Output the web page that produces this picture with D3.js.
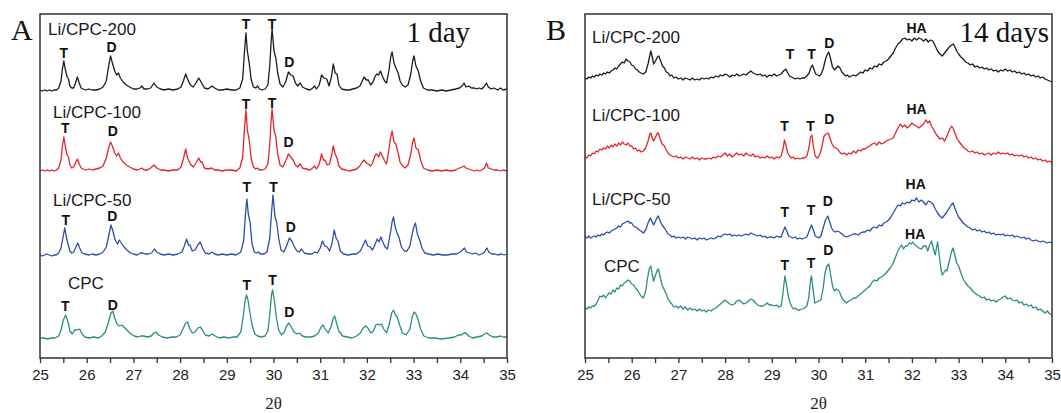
<html>
<head>
  <title>XRD Li/CPC</title>
  <script src="https://d3js.org/d3.v7.min.js"></script>
  <style>
    body { margin: 0; background: #fff; }
    svg text { font-family: Arial, "Liberation Sans", sans-serif; }
  </style>
</head>
<body>
<div id="chart"></div>
<script>
// ---- data (2theta, intensity above each trace's own baseline) ----
var samples = ["Li/CPC-200", "Li/CPC-100", "Li/CPC-50", "CPC"];
var colors = ["#1c1c1c", "#e2252b", "#2c4ea5", "#2b8c84"];
var tickValues = [25, 26, 27, 28, 29, 30, 31, 32, 33, 34, 35];

// panel A, 1 day
var a200 = [[25.00,1],[25.05,0],[25.10,1],[25.15,0],[25.20,1],[25.25,0],[25.30,1],[25.35,1],[25.40,3],[25.45,10],[25.48,22],[25.51,30],[25.54,22],[25.58,14],[25.61,12],[25.64,5],[25.68,3],[25.72,3],[25.76,8],[25.80,14],[25.84,8],[25.88,3],[25.92,2],[25.98,1],[26.05,2],[26.12,1],[26.2,1],[26.28,2],[26.35,4],[26.42,10],[26.47,25],[26.51,35],[26.55,28],[26.60,20],[26.64,16],[26.68,18],[26.72,13],[26.78,9],[26.85,6],[26.92,4],[27.0,2],[27.08,2],[27.14,3],[27.18,5],[27.23,2],[27.3,2],[27.37,3],[27.44,8],[27.5,4],[27.58,2],[27.66,1],[27.75,2],[27.85,1],[27.95,2],[28.02,4],[28.07,10],[28.12,17],[28.16,12],[28.22,6],[28.28,4],[28.34,8],[28.40,13],[28.45,9],[28.52,3],[28.6,2],[28.68,5],[28.74,3],[28.82,1],[28.9,1],[29.0,2],[29.1,1],[29.2,1],[29.28,3],[29.34,12],[29.38,40],[29.41,58],[29.44,40],[29.48,28],[29.52,12],[29.57,4],[29.62,3],[29.66,5],[29.7,2],[29.76,1],[29.82,2],[29.88,6],[29.92,25],[29.95,50],[29.97,62],[30.01,40],[30.05,33],[30.09,18],[30.14,7],[30.2,4],[30.26,9],[30.32,19],[30.37,16],[30.42,15],[30.47,8],[30.52,5],[30.57,8],[30.62,4],[30.7,2],[30.78,1],[30.84,3],[30.88,5],[30.92,2],[30.98,6],[31.03,16],[31.08,13],[31.14,12],[31.19,5],[31.24,14],[31.28,27],[31.32,18],[31.36,17],[31.4,6],[31.46,2],[31.55,1],[31.62,1],[31.7,2],[31.78,3],[31.85,5],[31.9,10],[31.94,14],[31.99,11],[32.03,11],[32.08,6],[32.13,9],[32.18,15],[32.21,17],[32.25,16],[32.29,20],[32.33,15],[32.38,10],[32.42,8],[32.47,20],[32.51,34],[32.54,39],[32.58,28],[32.62,23],[32.67,18],[32.71,10],[32.76,6],[32.82,4],[32.88,6],[32.94,17],[32.98,30],[33.01,35],[33.05,25],[33.1,20],[33.15,10],[33.21,3],[33.3,1],[33.4,1],[33.5,0],[33.6,1],[33.7,0],[33.8,1],[33.9,2],[33.98,3],[34.04,5],[34.08,8],[34.12,4],[34.18,5],[34.24,3],[34.3,3],[34.35,2],[34.4,3],[34.46,2],[34.52,5],[34.56,8],[34.6,4],[34.66,2],[34.72,3],[34.8,1],[34.86,3],[34.92,1],[35.0,2]];
var a100 = [[25.00,1],[25.05,2],[25.10,1],[25.15,2],[25.20,1],[25.25,2],[25.30,1],[25.35,2],[25.40,4],[25.45,12],[25.48,26],[25.51,35],[25.54,26],[25.58,17],[25.61,15],[25.64,7],[25.68,4],[25.72,5],[25.76,9],[25.80,13],[25.84,8],[25.88,4],[25.92,3],[25.98,2],[26.05,3],[26.12,2],[26.2,3],[26.28,4],[26.35,6],[26.42,14],[26.47,24],[26.51,30],[26.55,26],[26.60,19],[26.64,16],[26.68,19],[26.72,14],[26.78,10],[26.85,7],[26.92,5],[27.0,3],[27.08,2],[27.14,3],[27.18,4],[27.23,2],[27.3,2],[27.37,4],[27.44,7],[27.5,4],[27.58,2],[27.66,2],[27.75,1],[27.85,2],[27.95,2],[28.02,5],[28.07,13],[28.12,23],[28.16,14],[28.22,8],[28.28,5],[28.34,9],[28.40,14],[28.44,10],[28.47,10],[28.52,4],[28.6,3],[28.68,4],[28.74,2],[28.82,2],[28.9,1],[29.0,2],[29.1,2],[29.2,1],[29.28,4],[29.34,15],[29.38,45],[29.41,62],[29.44,42],[29.48,32],[29.52,14],[29.57,5],[29.62,3],[29.66,4],[29.7,2],[29.76,2],[29.82,3],[29.88,8],[29.92,28],[29.95,52],[29.97,63],[30.01,42],[30.05,35],[30.09,18],[30.14,7],[30.2,5],[30.26,11],[30.32,18],[30.37,15],[30.42,12],[30.47,7],[30.52,5],[30.57,8],[30.62,4],[30.7,3],[30.78,2],[30.84,4],[30.88,6],[30.92,3],[30.98,8],[31.03,18],[31.07,12],[31.1,12],[31.15,7],[31.2,8],[31.24,16],[31.28,26],[31.32,18],[31.36,14],[31.4,6],[31.46,3],[31.55,2],[31.62,1],[31.7,2],[31.78,3],[31.85,6],[31.9,10],[31.94,12],[31.99,9],[32.03,8],[32.08,6],[32.13,10],[32.18,17],[32.21,18],[32.25,15],[32.29,20],[32.33,16],[32.38,11],[32.42,8],[32.47,22],[32.51,35],[32.54,41],[32.58,30],[32.62,28],[32.67,19],[32.71,10],[32.76,6],[32.82,4],[32.88,7],[32.94,18],[32.98,30],[33.01,34],[33.05,24],[33.1,22],[33.15,12],[33.21,4],[33.3,2],[33.4,1],[33.5,2],[33.6,1],[33.7,2],[33.8,1],[33.9,2],[33.98,4],[34.04,5],[34.08,6],[34.12,4],[34.18,3],[34.24,2],[34.3,1],[34.35,2],[34.4,1],[34.46,2],[34.52,4],[34.56,9],[34.6,4],[34.66,3],[34.72,2],[34.8,2],[34.86,1],[34.92,2],[35.0,1]];
var a50 = [[25.00,1],[25.05,0],[25.10,1],[25.15,2],[25.20,1],[25.25,0],[25.30,1],[25.35,1],[25.40,3],[25.45,8],[25.49,18],[25.53,28],[25.56,20],[25.6,12],[25.64,5],[25.68,3],[25.72,4],[25.77,9],[25.81,13],[25.85,8],[25.9,3],[25.96,2],[26.05,1],[26.12,2],[26.2,1],[26.28,2],[26.35,4],[26.42,9],[26.47,20],[26.52,31],[26.56,25],[26.61,16],[26.66,12],[26.7,16],[26.74,13],[26.8,9],[26.86,6],[26.94,3],[27.0,2],[27.08,1],[27.15,3],[27.2,3],[27.25,2],[27.32,2],[27.39,3],[27.45,7],[27.5,4],[27.58,2],[27.66,1],[27.75,2],[27.85,1],[27.95,2],[28.04,4],[28.09,10],[28.14,17],[28.18,11],[28.21,11],[28.26,5],[28.32,6],[28.38,11],[28.43,14],[28.48,8],[28.54,3],[28.62,2],[28.68,4],[28.74,2],[28.82,1],[28.9,2],[29.0,1],[29.1,2],[29.2,1],[29.3,4],[29.36,15],[29.4,42],[29.43,57],[29.46,42],[29.5,33],[29.54,12],[29.59,4],[29.64,3],[29.68,4],[29.72,2],[29.8,2],[29.86,4],[29.92,18],[29.96,45],[29.99,61],[30.03,40],[30.07,33],[30.11,18],[30.16,6],[30.22,4],[30.28,10],[30.34,18],[30.39,15],[30.44,10],[30.5,5],[30.55,4],[30.6,7],[30.66,3],[30.74,2],[30.82,2],[30.88,4],[30.94,3],[31.0,8],[31.05,15],[31.1,10],[31.15,9],[31.2,5],[31.25,12],[31.3,26],[31.34,18],[31.38,15],[31.43,5],[31.5,2],[31.6,1],[31.7,2],[31.78,2],[31.86,5],[31.92,11],[31.97,16],[32.02,10],[32.07,9],[32.12,6],[32.17,11],[32.22,17],[32.26,14],[32.3,19],[32.34,14],[32.39,9],[32.44,7],[32.5,22],[32.54,34],[32.57,39],[32.61,28],[32.64,24],[32.69,18],[32.74,9],[32.8,5],[32.86,5],[32.92,10],[32.97,22],[33.01,30],[33.04,33],[33.08,22],[33.13,16],[33.18,8],[33.24,3],[33.32,2],[33.42,1],[33.52,2],[33.62,1],[33.72,1],[33.82,2],[33.92,2],[34.0,4],[34.05,6],[34.09,8],[34.13,4],[34.2,3],[34.26,2],[34.33,3],[34.4,1],[34.46,2],[34.52,4],[34.57,8],[34.61,4],[34.68,2],[34.74,2],[34.8,1],[34.88,2],[34.94,1],[35.0,2]];
var aCPC = [[25.00,1],[25.08,1],[25.16,0],[25.24,1],[25.32,1],[25.4,3],[25.45,9],[25.5,19],[25.55,24],[25.6,17],[25.64,8],[25.69,5],[25.74,9],[25.79,9],[25.85,10],[25.9,5],[25.96,2],[26.05,1],[26.15,2],[26.25,1],[26.32,3],[26.4,7],[26.46,16],[26.52,26],[26.56,28],[26.6,21],[26.65,15],[26.7,13],[26.75,14],[26.82,11],[26.88,8],[26.95,5],[27.02,3],[27.1,2],[27.16,3],[27.22,3],[27.3,2],[27.38,3],[27.44,6],[27.48,7],[27.54,4],[27.62,2],[27.72,1],[27.82,2],[27.92,2],[28.0,4],[28.06,10],[28.12,16],[28.16,17],[28.2,11],[28.26,6],[28.32,7],[28.38,11],[28.43,12],[28.48,9],[28.54,4],[28.62,3],[28.69,5],[28.75,3],[28.84,1],[28.94,2],[29.04,1],[29.14,2],[29.22,2],[29.3,7],[29.35,22],[29.39,38],[29.42,44],[29.45,40],[29.49,28],[29.54,14],[29.6,5],[29.66,3],[29.74,2],[29.82,3],[29.88,8],[29.92,25],[29.96,45],[29.98,49],[30.02,38],[30.06,22],[30.11,9],[30.17,4],[30.23,7],[30.28,13],[30.33,16],[30.38,12],[30.44,7],[30.5,5],[30.55,6],[30.62,3],[30.7,2],[30.8,2],[30.88,3],[30.96,6],[31.02,12],[31.06,14],[31.11,10],[31.17,6],[31.23,12],[31.28,21],[31.31,23],[31.35,16],[31.4,8],[31.48,3],[31.58,2],[31.68,1],[31.78,3],[31.86,6],[31.92,11],[31.97,13],[32.02,11],[32.08,6],[32.14,8],[32.19,14],[32.23,15],[32.27,14],[32.31,15],[32.36,10],[32.42,6],[32.48,15],[32.53,26],[32.57,29],[32.61,24],[32.65,22],[32.7,14],[32.76,6],[32.84,4],[32.92,10],[32.97,22],[33.01,27],[33.05,25],[33.1,19],[33.15,10],[33.22,3],[33.32,1],[33.45,1],[33.6,0],[33.75,1],[33.88,2],[33.96,4],[34.02,4],[34.08,6],[34.12,6],[34.18,3],[34.26,1],[34.36,2],[34.46,3],[34.52,5],[34.57,6],[34.62,4],[34.7,2],[34.78,2],[34.86,3],[34.93,2],[35.0,2]];

// panel B, 14 days
var b200 = [[25.00,3],[25.04,2],[25.08,4],[25.12,3],[25.16,5],[25.2,4],[25.24,6],[25.28,5],[25.32,7],[25.36,6],[25.4,8],[25.44,7],[25.48,9],[25.52,8],[25.56,10],[25.6,11],[25.64,13],[25.68,12],[25.72,15],[25.76,17],[25.8,19],[25.84,18],[25.88,22],[25.92,20],[25.96,19],[26.0,16],[26.04,15],[26.08,12],[26.12,11],[26.16,9],[26.2,8],[26.25,7],[26.3,9],[26.35,17],[26.39,26],[26.41,30],[26.44,24],[26.47,17],[26.51,20],[26.55,24],[26.58,25],[26.62,20],[26.66,15],[26.7,13],[26.74,9],[26.78,8],[26.82,5],[26.86,6],[26.9,3],[26.95,4],[27.0,2],[27.05,3],[27.1,1],[27.15,3],[27.2,2],[27.25,1],[27.3,3],[27.35,1],[27.4,2],[27.45,1],[27.5,3],[27.55,2],[27.6,3],[27.65,2],[27.7,4],[27.75,3],[27.8,5],[27.85,4],[27.9,6],[27.95,5],[28.0,7],[28.05,6],[28.1,4],[28.15,6],[28.2,5],[28.25,7],[28.3,5],[28.35,6],[28.4,7],[28.45,6],[28.5,8],[28.55,10],[28.6,8],[28.65,7],[28.7,6],[28.75,7],[28.8,5],[28.85,6],[28.9,4],[28.95,6],[29.0,5],[29.05,7],[29.1,5],[29.15,6],[29.2,7],[29.25,10],[29.3,12],[29.34,8],[29.38,5],[29.42,4],[29.46,3],[29.5,2],[29.55,3],[29.6,2],[29.65,3],[29.7,3],[29.75,5],[29.8,8],[29.84,14],[29.87,16],[29.9,12],[29.94,7],[29.98,6],[30.02,5],[30.06,7],[30.1,12],[30.14,20],[30.18,26],[30.22,29],[30.26,22],[30.3,14],[30.34,11],[30.38,13],[30.42,15],[30.46,13],[30.5,9],[30.54,7],[30.58,5],[30.62,6],[30.66,4],[30.7,5],[30.75,6],[30.8,5],[30.85,7],[30.9,9],[30.95,8],[31.0,11],[31.05,10],[31.1,13],[31.15,12],[31.2,15],[31.25,14],[31.3,17],[31.35,16],[31.4,19],[31.45,20],[31.5,22],[31.55,25],[31.6,28],[31.65,33],[31.7,37],[31.75,39],[31.8,42],[31.85,43],[31.9,41],[31.95,42],[32.0,40],[32.05,43],[32.1,41],[32.15,43],[32.2,42],[32.25,40],[32.3,42],[32.35,39],[32.4,41],[32.45,40],[32.5,35],[32.55,30],[32.6,27],[32.65,25],[32.7,28],[32.75,31],[32.8,34],[32.85,36],[32.89,37],[32.93,33],[32.97,29],[33.0,27],[33.05,24],[33.1,22],[33.15,19],[33.2,18],[33.25,16],[33.3,17],[33.35,14],[33.4,15],[33.45,13],[33.5,14],[33.55,12],[33.6,13],[33.65,11],[33.7,12],[33.75,10],[33.8,11],[33.85,9],[33.9,11],[33.95,10],[34.0,12],[34.05,10],[34.1,11],[34.15,9],[34.2,10],[34.25,8],[34.3,9],[34.35,7],[34.4,8],[34.45,6],[34.5,7],[34.55,5],[34.6,6],[34.65,4],[34.7,5],[34.75,3],[34.8,4],[34.85,2],[34.9,1],[34.95,0],[35.0,-1]];
var b100 = [[25.0,4],[25.04,3],[25.08,6],[25.12,5],[25.16,8],[25.2,7],[25.24,10],[25.28,9],[25.32,12],[25.36,11],[25.4,13],[25.44,12],[25.48,15],[25.52,13],[25.56,16],[25.6,14],[25.64,17],[25.68,15],[25.72,18],[25.76,16],[25.8,19],[25.84,17],[25.88,16],[25.92,18],[25.96,15],[26.0,15],[26.04,12],[26.08,13],[26.12,10],[26.16,11],[26.2,9],[26.25,10],[26.3,13],[26.35,20],[26.39,27],[26.41,28],[26.44,23],[26.47,20],[26.51,24],[26.55,28],[26.57,28],[26.61,22],[26.65,17],[26.7,15],[26.74,11],[26.78,8],[26.82,6],[26.86,5],[26.9,4],[26.95,5],[27.0,3],[27.05,4],[27.1,2],[27.15,4],[27.2,3],[27.25,2],[27.3,4],[27.35,2],[27.4,3],[27.45,1],[27.5,3],[27.55,2],[27.6,2],[27.65,3],[27.7,2],[27.75,4],[27.8,3],[27.85,5],[27.9,4],[27.95,6],[28.0,8],[28.05,5],[28.1,7],[28.15,4],[28.2,6],[28.25,8],[28.3,6],[28.35,7],[28.4,5],[28.45,8],[28.5,6],[28.55,5],[28.6,7],[28.65,4],[28.7,5],[28.75,3],[28.8,4],[28.85,3],[28.9,5],[28.95,3],[29.0,4],[29.05,2],[29.1,4],[29.15,3],[29.2,5],[29.24,12],[29.27,21],[29.3,16],[29.34,8],[29.38,5],[29.42,3],[29.46,4],[29.5,2],[29.55,3],[29.6,2],[29.65,3],[29.7,3],[29.75,5],[29.79,12],[29.83,24],[29.86,26],[29.89,15],[29.93,5],[29.97,3],[30.0,4],[30.04,8],[30.08,16],[30.12,25],[30.16,27],[30.21,28],[30.25,22],[30.29,17],[30.33,14],[30.37,13],[30.41,12],[30.45,9],[30.5,7],[30.55,8],[30.6,6],[30.65,8],[30.7,7],[30.75,10],[30.8,8],[30.85,11],[30.9,10],[30.95,12],[31.0,12],[31.05,14],[31.1,15],[31.15,17],[31.2,18],[31.25,16],[31.3,19],[31.35,17],[31.4,18],[31.45,20],[31.5,21],[31.55,22],[31.6,23],[31.65,28],[31.7,33],[31.75,37],[31.8,34],[31.85,36],[31.9,33],[31.95,35],[32.0,38],[32.05,36],[32.1,35],[32.15,33],[32.2,35],[32.25,37],[32.3,41],[32.34,38],[32.38,40],[32.42,35],[32.46,32],[32.5,28],[32.55,25],[32.6,22],[32.65,23],[32.7,20],[32.75,25],[32.8,31],[32.85,35],[32.89,32],[32.93,27],[32.97,22],[33.0,20],[33.05,17],[33.1,14],[33.15,12],[33.2,10],[33.25,9],[33.3,10],[33.35,8],[33.4,9],[33.45,7],[33.5,8],[33.55,6],[33.6,7],[33.65,8],[33.7,6],[33.75,8],[33.8,7],[33.85,9],[33.9,7],[33.95,8],[34.0,7],[34.05,8],[34.1,6],[34.15,7],[34.2,5],[34.25,6],[34.3,5],[34.35,6],[34.4,4],[34.45,5],[34.5,3],[34.55,4],[34.6,2],[34.65,3],[34.7,1],[34.75,2],[34.8,0],[34.85,1],[34.9,-1],[34.95,0],[35.0,-2]];
var b50 = [[25.0,3],[25.04,2],[25.08,4],[25.12,2],[25.16,3],[25.2,4],[25.24,3],[25.28,5],[25.32,4],[25.36,6],[25.4,5],[25.44,7],[25.48,8],[25.52,7],[25.56,9],[25.6,10],[25.64,11],[25.68,12],[25.72,14],[25.76,13],[25.8,16],[25.84,17],[25.88,18],[25.92,19],[25.96,17],[26.0,17],[26.04,14],[26.08,13],[26.12,12],[26.16,10],[26.2,9],[26.25,7],[26.3,10],[26.35,17],[26.4,22],[26.44,18],[26.47,15],[26.51,19],[26.55,23],[26.57,24],[26.61,19],[26.65,15],[26.7,12],[26.74,9],[26.78,6],[26.82,5],[26.86,3],[26.9,4],[26.95,2],[27.0,3],[27.05,2],[27.1,3],[27.15,1],[27.2,3],[27.25,2],[27.3,1],[27.35,2],[27.4,0],[27.45,2],[27.5,1],[27.55,2],[27.6,0],[27.65,1],[27.7,2],[27.75,1],[27.8,2],[27.85,4],[27.9,3],[27.95,5],[28.0,6],[28.05,5],[28.1,6],[28.15,4],[28.2,5],[28.25,4],[28.3,5],[28.35,4],[28.4,5],[28.45,6],[28.5,5],[28.55,7],[28.6,6],[28.65,5],[28.7,4],[28.75,5],[28.8,3],[28.85,4],[28.9,2],[28.95,3],[29.0,3],[29.05,2],[29.1,4],[29.15,3],[29.2,3],[29.24,8],[29.28,13],[29.32,9],[29.36,4],[29.4,3],[29.45,2],[29.5,3],[29.55,1],[29.6,2],[29.65,1],[29.7,2],[29.75,3],[29.8,9],[29.85,15],[29.89,10],[29.93,4],[29.97,3],[30.01,2],[30.05,4],[30.1,12],[30.15,20],[30.2,24],[30.24,18],[30.28,12],[30.32,9],[30.36,8],[30.4,9],[30.45,8],[30.5,6],[30.55,4],[30.6,3],[30.65,4],[30.7,5],[30.75,6],[30.8,6],[30.85,5],[30.9,7],[30.95,8],[31.0,8],[31.05,10],[31.1,9],[31.15,12],[31.2,13],[31.25,12],[31.3,15],[31.35,14],[31.4,17],[31.45,18],[31.5,20],[31.55,23],[31.6,27],[31.65,31],[31.7,35],[31.75,34],[31.8,37],[31.85,36],[31.9,38],[31.95,37],[32.0,40],[32.05,39],[32.1,42],[32.15,38],[32.2,40],[32.25,38],[32.3,35],[32.35,39],[32.4,38],[32.45,36],[32.5,31],[32.55,27],[32.6,24],[32.65,22],[32.7,25],[32.75,28],[32.8,32],[32.84,35],[32.88,37],[32.92,32],[32.96,27],[33.0,23],[33.05,20],[33.1,17],[33.15,15],[33.2,13],[33.25,12],[33.3,10],[33.35,11],[33.4,9],[33.45,10],[33.5,8],[33.55,9],[33.6,7],[33.65,8],[33.7,6],[33.75,7],[33.8,5],[33.85,6],[33.9,5],[33.95,6],[34.0,4],[34.05,5],[34.1,4],[34.15,5],[34.2,3],[34.25,4],[34.3,3],[34.35,2],[34.4,3],[34.45,1],[34.5,2],[34.55,0],[34.6,-1],[34.65,0],[34.7,-1],[34.75,-2],[34.8,-1],[34.85,-2],[34.9,-3],[34.95,-2],[35.0,-3]];
var bCPC = [[25.0,5],[25.04,4],[25.08,6],[25.12,5],[25.16,7],[25.2,7],[25.24,9],[25.28,13],[25.32,17],[25.36,16],[25.4,18],[25.44,15],[25.48,18],[25.52,20],[25.56,19],[25.6,23],[25.64,21],[25.68,25],[25.72,24],[25.76,28],[25.8,27],[25.84,30],[25.88,31],[25.92,33],[25.96,32],[26.0,29],[26.04,28],[26.08,25],[26.12,23],[26.16,20],[26.2,17],[26.25,15],[26.3,22],[26.34,35],[26.38,45],[26.41,47],[26.44,38],[26.47,32],[26.51,38],[26.55,43],[26.57,44],[26.61,36],[26.65,28],[26.7,23],[26.74,19],[26.78,14],[26.82,11],[26.86,9],[26.9,6],[26.95,7],[27.0,5],[27.05,7],[27.1,4],[27.15,6],[27.2,3],[27.25,5],[27.3,3],[27.35,4],[27.4,2],[27.45,4],[27.5,2],[27.55,3],[27.6,1],[27.65,3],[27.7,2],[27.75,4],[27.8,5],[27.85,7],[27.9,9],[27.95,11],[28.0,13],[28.05,11],[28.1,9],[28.15,8],[28.2,9],[28.25,12],[28.3,13],[28.35,11],[28.4,9],[28.45,10],[28.5,12],[28.55,14],[28.6,13],[28.65,10],[28.7,8],[28.75,7],[28.8,7],[28.85,8],[28.9,10],[28.95,8],[29.0,8],[29.05,7],[29.1,8],[29.15,6],[29.2,7],[29.24,20],[29.28,37],[29.31,30],[29.35,18],[29.38,12],[29.42,7],[29.46,4],[29.5,5],[29.55,3],[29.6,3],[29.65,4],[29.7,5],[29.75,7],[29.79,15],[29.83,33],[29.85,37],[29.88,25],[29.92,10],[29.96,11],[30.0,12],[30.05,13],[30.1,25],[30.14,40],[30.18,47],[30.22,49],[30.26,38],[30.3,27],[30.34,22],[30.38,24],[30.42,23],[30.46,20],[30.5,15],[30.55,12],[30.6,10],[30.65,12],[30.7,13],[30.75,15],[30.8,15],[30.85,17],[30.9,19],[30.95,21],[31.0,23],[31.05,25],[31.1,27],[31.15,31],[31.2,33],[31.25,32],[31.3,35],[31.35,36],[31.4,38],[31.45,40],[31.5,43],[31.55,46],[31.6,50],[31.65,56],[31.7,62],[31.75,66],[31.78,68],[31.82,64],[31.86,67],[31.9,67],[31.94,70],[31.98,69],[32.02,71],[32.06,68],[32.1,67],[32.15,65],[32.2,64],[32.25,67],[32.3,67],[32.34,62],[32.38,68],[32.42,72],[32.46,64],[32.5,58],[32.53,66],[32.55,71],[32.58,60],[32.62,45],[32.65,38],[32.68,40],[32.72,43],[32.75,42],[32.8,52],[32.84,60],[32.88,65],[32.92,58],[32.96,50],[33.0,47],[33.05,40],[33.1,34],[33.15,30],[33.2,27],[33.25,25],[33.3,22],[33.35,20],[33.4,18],[33.45,17],[33.5,15],[33.55,16],[33.6,13],[33.65,14],[33.7,12],[33.75,13],[33.8,11],[33.85,13],[33.9,14],[33.95,16],[34.0,17],[34.05,14],[34.1,15],[34.15,13],[34.2,12],[34.25,13],[34.3,10],[34.35,11],[34.4,8],[34.45,9],[34.5,7],[34.55,8],[34.6,5],[34.65,6],[34.7,3],[34.75,4],[34.8,2],[34.85,0],[34.9,2],[34.95,-1],[35.0,-2]];

// phase marks: [label, 2theta, height above the trace baseline]
var marksA = [
  [["T",25.51,38],["D",26.53,44],["T",29.41,67],["T",29.97,67],["D",30.34,29]],
  [["T",25.54,44],["D",26.56,41],["T",29.41,68],["T",29.97,69],["D",30.32,30]],
  [["T",25.55,36],["D",26.55,40],["T",29.43,69],["T",30.0,69],["D",30.37,29]],
  [["T",25.54,33],["D",26.56,34],["T",29.43,54],["T",29.98,59],["D",30.34,27]]
];
var marksB = [
  [["T",29.39,27],["T",29.85,27],["D",30.23,38],["HA",32.1,53]],
  [["T",29.27,35],["T",29.83,35],["D",30.23,42],["HA",32.1,52]],
  [["T",29.28,28],["T",29.84,30],["D",30.2,39],["HA",32.08,56]],
  [["T",29.28,48],["T",29.84,50],["D",30.21,63],["HA",32.07,79]]
];

// ---- layout ----
var W = 1061, H = 413;
var plotTop = 14, plotBottom = 358;

var panels = [
  { left: 40, right: 507, letter: "A", letterX: 11, tag: "1 day", tagX: 470,
    series: [a200, a100, a50, aCPC], marks: marksA,
    offsets: [267, 186, 102, 19],
    nameXY: [[48, 29], [53, 112], [53, 200], [68, 283]] },
  { left: 585, right: 1052, letter: "B", letterX: 546, tag: "14 days", tagX: 1049,
    series: [b200, b100, b50, bCPC], marks: marksB,
    offsets: [277, 197, 118, 45],
    nameXY: [[592, 37], [592, 115], [592, 199], [604, 266]] }
];

var svg = d3.select("#chart")
  .append("svg")
  .attr("width", W)
  .attr("height", H)
  .style("background", "#fff");

panels.forEach(function(p) {
  var x = d3.scaleLinear().domain([25, 35]).range([p.left, p.right]);
  var y = d3.scaleLinear().domain([0, plotBottom - plotTop]).range([plotBottom, plotTop]);

  var g = svg.append("g");

  // traces
  p.series.forEach(function(s, i) {
    var line = d3.line()
      .x(function(d) { return x(d[0]); })
      .y(function(d) { return y(d[1] + p.offsets[i]); });
    g.append("path")
      .datum(s)
      .attr("d", line)
      .attr("fill", "none")
      .attr("stroke", colors[i])
      .attr("stroke-width", 1.3)
      .attr("stroke-linejoin", "round");
  });

  // phase marks
  p.marks.forEach(function(list, i) {
    g.selectAll(null)
      .data(list)
      .enter()
      .append("text")
      .attr("x", function(d) { return x(d[1]); })
      .attr("y", function(d) { return y(d[2] + p.offsets[i]); })
      .attr("text-anchor", "middle")
      .attr("dominant-baseline", "central")
      .attr("font-size", "14px")
      .attr("font-weight", "bold")
      .attr("fill", "#111")
      .text(function(d) { return d[0]; });
  });

  // sample names
  g.selectAll(null)
    .data(samples)
    .enter()
    .append("text")
    .attr("x", function(d, i) { return p.nameXY[i][0]; })
    .attr("y", function(d, i) { return p.nameXY[i][1]; })
    .attr("dominant-baseline", "central")
    .attr("font-size", "17px")
    .attr("fill", "#1a1a1a")
    .text(function(d) { return d; });

  // x axis with half-unit minor ticks
  var axis = d3.axisBottom(x)
    .tickValues(d3.range(25, 35.01, 0.5))
    .tickSize(5)
    .tickPadding(6)
    .tickFormat(function(d) { return tickValues.indexOf(d) >= 0 ? d : ""; });

  var ax = g.append("g")
    .attr("transform", "translate(0," + plotBottom + ")")
    .call(axis);
  ax.select(".domain").remove();
  ax.selectAll(".tick line").attr("stroke", "#333").attr("stroke-width", 1.3);
  ax.selectAll(".tick text")
    .attr("font-size", "15px")
    .attr("fill", "#222")
    .style("font-family", "Arial, 'Liberation Sans', sans-serif");

  // frame
  g.append("rect")
    .attr("x", p.left)
    .attr("y", plotTop)
    .attr("width", p.right - p.left)
    .attr("height", plotBottom - plotTop)
    .attr("fill", "none")
    .attr("stroke", "#333")
    .attr("stroke-width", 1.5);

  // axis title
  g.append("text")
    .attr("x", (p.left + p.right) / 2)
    .attr("y", 403)
    .attr("text-anchor", "middle")
    .attr("dominant-baseline", "central")
    .attr("font-size", "17px")
    .attr("fill", "#222")
    .style("font-family", "'Liberation Serif', 'DejaVu Serif', serif")
    .text("2θ");

  // panel letter and time tag
  g.append("text")
    .attr("x", p.letterX)
    .attr("y", 40)
    .attr("font-size", "30px")
    .attr("fill", "#111")
    .style("font-family", "'Liberation Serif', 'Times New Roman', serif")
    .text(p.letter);

  g.append("text")
    .attr("x", p.tagX)
    .attr("y", 42)
    .attr("text-anchor", "end")
    .attr("font-size", "29px")
    .attr("fill", "#111")
    .style("font-family", "'Liberation Serif', 'Times New Roman', serif")
    .text(p.tag);
});
</script>
</body>
</html>
